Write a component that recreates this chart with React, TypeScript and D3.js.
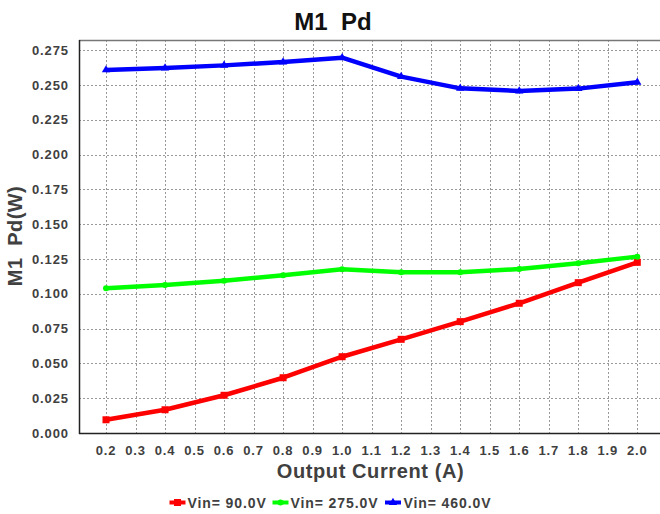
import React from "react";
import * as d3 from "d3";

const currents = [0.2, 0.4, 0.6, 0.8, 1.0, 1.2, 1.4, 1.6, 1.8, 2.0];
const vin90 = [0.0095, 0.0167, 0.0271, 0.0397, 0.0548, 0.0673, 0.08, 0.0932, 0.108, 0.1226];
const vin275 = [0.1039, 0.1063, 0.1094, 0.1133, 0.1176, 0.1154, 0.1154, 0.1178, 0.1219, 0.1267];
const vin460 = [0.2608, 0.2622, 0.2641, 0.2665, 0.2696, 0.256, 0.2476, 0.2457, 0.2474, 0.2519];
const xTicks = [0.2, 0.3, 0.4, 0.5, 0.6, 0.7, 0.8, 0.9, 1.0, 1.1, 1.2, 1.3, 1.4, 1.5, 1.6, 1.7, 1.8, 1.9, 2.0];
const yTicks = [0, 0.025, 0.05, 0.075, 0.1, 0.125, 0.15, 0.175, 0.2, 0.225, 0.25, 0.275];
const seriesNames = ["Vin= 90.0V", "Vin= 275.0V", "Vin= 460.0V"];
const seriesColors = ["#ff0000", "#00ff00", "#0000ff"];
const seriesMarkers = ["square", "circle", "triangle"];

const W = 660;
const H = 514;
const left = 79;
const top = 40;
const bottom = 433;
const right = 660;

export default function App() {
  const x = d3.scaleLinear().domain([0.2, 2.0]).range([106, 637.3]);
  const y = d3.scaleLinear().domain([0, 0.275]).range([bottom, 50.2]);
  const allSeries = [vin90, vin275, vin460];
  const line = d3
    .line<number>()
    .x((_, i) => x(currents[i]))
    .y((d) => y(d));

  const fontFam = "'Liberation Sans', Arial, sans-serif";
  const textColor = "#404040";

  const marker = (kind: string, cx: number, cy: number, color: string, key: string, s = 1) => {
    if (kind === "square")
      return <rect key={key} x={cx - 3.5 * s} y={cy - 3.5 * s} width={7 * s} height={7 * s} fill={color} />;
    if (kind === "circle") return <circle key={key} cx={cx} cy={cy} r={3 * s} fill={color} />;
    const sym = d3.symbol(d3.symbolTriangle, 30 * s * s)();
    return <path key={key} d={sym || ""} transform={`translate(${cx},${cy})`} fill={color} />;
  };

  // legend layout
  const legendY = 502.5;
  const legendItems = [
    { lx: 169.5, tx: 187.5 },
    { lx: 272.5, tx: 290.5 },
    { lx: 385, tx: 403.5 },
  ];

  return (
    <svg
      width={W}
      height={H}
      style={{ position: "absolute", left: 0, top: 0, background: "#fff" }}
      fontFamily={fontFam}
    >
      <rect x={0} y={0} width={W} height={H} fill="#fff" />
      {/* title */}
      <text
        x={333}
        y={30}
        textAnchor="middle"
        fontSize={24}
        fontWeight="bold"
        fill="#111"
        style={{ whiteSpace: "pre" }}
      >
        {"M1  Pd"}
      </text>
      {/* grid */}
      {yTicks.slice(1).map((t) => (
        <line
          key={"gy" + t}
          x1={left}
          x2={right}
          y1={Math.round(y(t)) + 0.5}
          y2={Math.round(y(t)) + 0.5}
          stroke="#999"
          strokeWidth={1}
          strokeDasharray="2,2"
        />
      ))}
      {xTicks.map((t) => (
        <line
          key={"gx" + t}
          x1={Math.round(x(t)) + 0.5}
          x2={Math.round(x(t)) + 0.5}
          y1={top}
          y2={bottom}
          stroke="#999"
          strokeWidth={1}
          strokeDasharray="2,2"
        />
      ))}
      {/* frame */}
      <line x1={left} x2={right} y1={top + 0.5} y2={top + 0.5} stroke="#777" strokeWidth={1.5} />
      <line x1={left + 0.5} x2={left + 0.5} y1={top} y2={bottom + 1} stroke="#222" strokeWidth={1.5} />
      <line x1={left} x2={right} y1={bottom + 0.5} y2={bottom + 0.5} stroke="#222" strokeWidth={1.5} />
      {/* y tick labels */}
      {yTicks.map((t) => (
        <text
          key={"ty" + t}
          x={69}
          y={y(t)}
          dy="0.35em"
          textAnchor="end"
          fontSize={13}
          fontWeight="bold"
          fill={textColor}
          letterSpacing={0.9}
        >
          {d3.format(".3f")(t)}
        </text>
      ))}
      {/* x tick labels */}
      {xTicks.map((t) => (
        <text
          key={"tx" + t}
          x={x(t)}
          y={450}
          dy="0.35em"
          textAnchor="middle"
          fontSize={13}
          fontWeight="bold"
          fill={textColor}
          letterSpacing={0.8}
        >
          {d3.format(".1f")(t)}
        </text>
      ))}
      {/* axis titles */}
      <text
        x={370.5}
        y={478}
        textAnchor="middle"
        fontSize={20}
        fontWeight="bold"
        fill={textColor}
        letterSpacing={0.6}
      >
        Output Current (A)
      </text>
      <text
        transform={`translate(22,236) rotate(-90)`}
        textAnchor="middle"
        fontSize={20}
        fontWeight="bold"
        fill={textColor}
        letterSpacing={0.4}
        style={{ whiteSpace: "pre" }}
      >
        {"M1  Pd(W)"}
      </text>
      {/* series */}
      {allSeries.map((s, si) => (
        <g key={"s" + si}>
          <path
            d={line(s) || ""}
            fill="none"
            stroke={seriesColors[si]}
            strokeWidth={4.5}
            strokeLinejoin="round"
          />
          {s.map((v, i) => marker(seriesMarkers[si], x(currents[i]), y(v), seriesColors[si], "m" + si + "_" + i))}
        </g>
      ))}
      {/* legend */}
      {legendItems.map((it, i) => (
        <g key={"lg" + i}>
          <line
            x1={it.lx}
            x2={it.lx + 16}
            y1={legendY}
            y2={legendY}
            stroke={seriesColors[i]}
            strokeWidth={4}
          />
          {marker(seriesMarkers[i], it.lx + 8, legendY, seriesColors[i], "lm" + i, 1)}
          <text
            x={it.tx}
            y={legendY}
            dy="0.36em"
            fontSize={14}
            fontWeight="bold"
            fill={textColor}
            letterSpacing={0.9}
          >
            {seriesNames[i]}
          </text>
        </g>
      ))}
    </svg>
  );
}
